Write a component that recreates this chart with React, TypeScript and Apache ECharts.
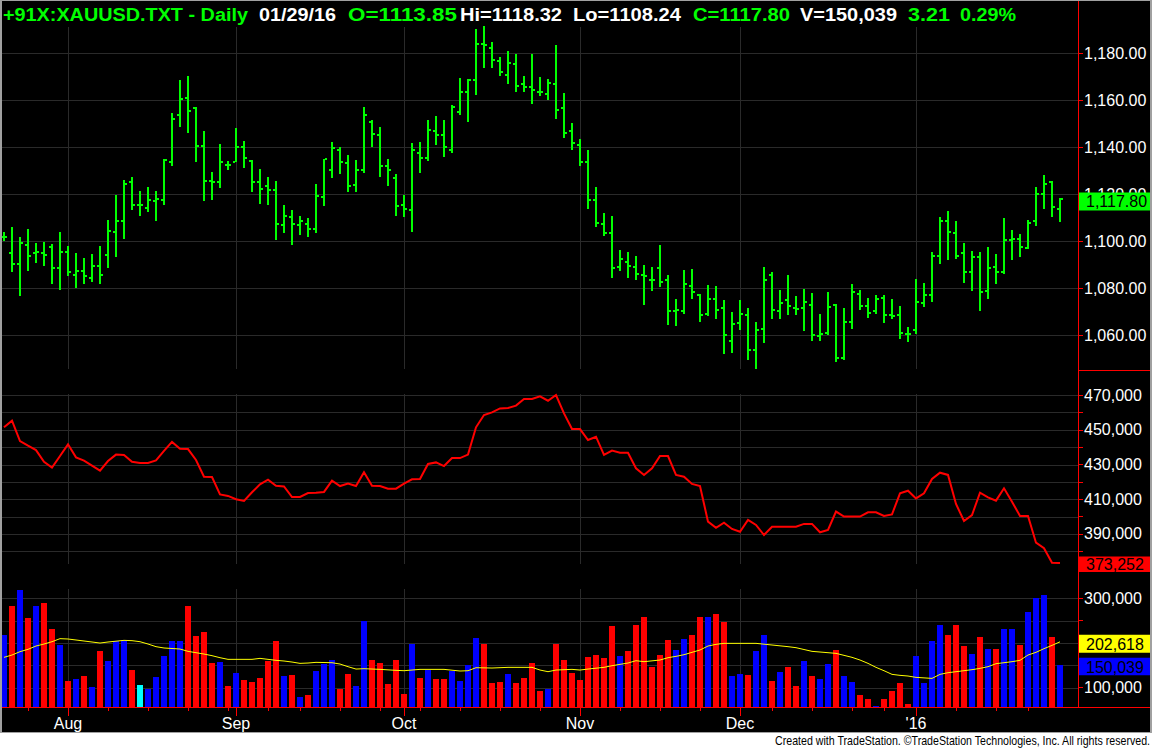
import React, { useEffect, useRef } from 'react';
import * as echarts from 'echarts';

// ---------- data ----------
const opens = [1101.8,1094.8,1090.5,1098.6,1094.8,1094.8,1097.7,1088.4,1095.2,1085.8,
1087.5,1084.5,1089.6,1094.3,1104.1,1108.4,1125.4,1115.2,1114.3,1117.3,
1117.7,1133.5,1153.5,1161.1,1156.5,1140.7,1125.8,1125.4,1132.6,1133.9,
1139.9,1134.3,1125.0,1123.3,1121.6,1106.7,1110.5,1107.1,1107.5,1105.0,
1119.0,1130.1,1138.6,1133.1,1124.1,1130.1,1150.9,1145.0,1131.8,1127.1,
1115.2,1113.1,1137.7,1135.2,1146.7,1145.4,1138.6,1154.8,1163.3,1168.4,
1184.1,1182.4,1176.5,1170.9,1175.2,1167.1,1165.8,1163.7,1162.8,1166.7,
1156.5,1147.1,1141.1,1133.5,1117.7,1107.5,1103.7,1089.2,1091.3,1089.2,
1085.8,1083.7,1088.8,1083.3,1070.4,1070.1,1081.1,1077.3,1069.2,1075.2,
1071.4,1057.5,1065.0,1068.4,1053.9,1062.8,1085.8,1070.1,1074.8,1071.4,
1071.4,1073.0,1059.6,1061.1,1073.0,1050.5,1065.8,1077.7,1072.6,1070.1,
1076.0,1068.4,1068.4,1060.7,1062.4,1073.5,1077.3,1093.9,1108.8,1103.7,
1094.8,1086.7,1093.1,1079.0,1089.2,1087.1,1100.6,1101.1,1097.3,1108.5,
1119.9,1125.4,1113.85];

const highs = [1104.0,1106.0,1101.7,1105.1,1099.3,1099.7,1098.9,1103.8,1098.0,1095.0,
1092.9,1094.6,1098.0,1109.1,1119.7,1126.1,1127.4,1121.3,1123.1,1121.4,
1134.9,1154.5,1168.7,1170.4,1157.0,1147.0,1129.5,1141.4,1134.3,1148.2,
1142.7,1134.6,1130.8,1127.4,1125.7,1115.5,1113.3,1110.8,1109.9,1124.4,
1135.0,1142.3,1140.1,1136.7,1134.6,1157.0,1151.6,1148.5,1134.9,1128.7,
1119.7,1141.7,1142.1,1151.6,1153.2,1151.5,1157.9,1169.4,1168.9,1190.2,
1191.6,1184.7,1178.3,1180.9,1179.7,1170.2,1179.6,1169.8,1168.9,1183.4,
1163.1,1150.2,1143.4,1138.9,1123.0,1111.9,1110.6,1096.3,1095.5,1093.6,
1089.8,1088.9,1098.3,1085.5,1075.3,1087.8,1088.1,1077.6,1081.3,1080.9,
1074.9,1069.8,1074.9,1071.5,1065.5,1088.9,1086.8,1079.2,1085.5,1076.6,
1079.6,1077.9,1068.9,1078.3,1073.2,1071.5,1081.7,1079.2,1075.7,1077.0,
1077.0,1075.3,1072.3,1063.4,1083.8,1082.1,1095.3,1110.2,1112.8,1108.5,
1099.2,1095.9,1095.3,1097.4,1094.5,1109.8,1104.7,1103.0,1108.9,1123.0,
1128.1,1125.5,1118.32];

const lows = [1099.9,1086.7,1076.5,1087.5,1090.9,1089.6,1081.6,1079.4,1085.0,1080.3,
1082.0,1082.8,1082.0,1088.8,1093.1,1101.1,1113.1,1110.9,1112.6,1108.8,
1115.6,1131.8,1148.4,1146.2,1133.9,1116.9,1117.7,1122.8,1130.5,1133.5,
1131.3,1121.1,1116.0,1115.2,1100.7,1103.3,1098.2,1102.8,1102.0,1103.3,
1114.8,1126.7,1128.8,1121.1,1121.1,1129.2,1140.3,1127.5,1123.7,1110.9,
1110.5,1104.1,1129.2,1134.3,1141.1,1136.0,1137.7,1153.9,1150.9,1162.4,
1173.9,1173.5,1170.1,1166.7,1163.3,1163.7,1158.2,1161.6,1159.9,1151.8,
1144.1,1138.6,1132.2,1113.9,1106.0,1102.4,1084.5,1087.5,1084.5,1083.3,
1073.0,1079.0,1080.7,1064.5,1064.1,1069.2,1075.2,1065.8,1068.1,1067.1,
1051.8,1052.3,1062.4,1049.6,1045.8,1056.9,1067.1,1066.7,1068.4,1068.4,
1061.6,1057.7,1057.7,1059.9,1048.8,1049.6,1062.8,1070.9,1067.5,1069.2,
1065.4,1066.7,1058.2,1057.3,1060.7,1071.8,1074.3,1090.5,1092.2,1092.6,
1082.4,1079.0,1070.5,1075.2,1081.6,1086.2,1091.8,1093.1,1096.5,1106.4,
1113.9,1110.5,1108.24];

const closes = [1102.0,1090.5,1099.4,1093.9,1095.2,1094.3,1088.8,1095.6,1086.7,1087.5,
1085.0,1089.6,1085.8,1104.5,1108.8,1124.5,1115.2,1115.2,1117.7,1118.0,
1134.5,1152.2,1160.7,1155.2,1140.7,1125.6,1125.2,1133.9,1132.6,1139.9,
1135.2,1125.0,1122.4,1121.6,1107.5,1110.9,1107.5,1108.8,1105.4,1119.4,
1134.8,1139.6,1133.5,1123.7,1130.1,1153.9,1145.8,1132.2,1130.5,1114.8,
1113.5,1139.0,1135.6,1147.5,1145.4,1139.9,1156.9,1163.7,1168.8,1184.1,
1183.3,1177.3,1172.2,1176.0,1166.2,1165.8,1164.5,1163.3,1167.2,1156.0,
1146.2,1142.0,1133.5,1117.7,1107.9,1103.7,1088.8,1092.6,1089.6,1086.2,
1085.4,1083.7,1082.8,1070.1,1070.6,1082.0,1078.2,1068.8,1075.2,1070.9,
1060.0,1064.7,1069.2,1053.5,1062.1,1083.3,1070.9,1073.5,1072.6,1071.3,
1074.3,1060.0,1060.7,1071.8,1050.1,1065.8,1078.2,1072.6,1069.6,1075.6,
1068.8,1068.3,1061.1,1060.6,1074.3,1077.3,1093.5,1108.8,1104.1,1093.9,
1086.7,1093.1,1078.2,1088.8,1087.1,1100.6,1100.9,1097.7,1107.7,1119.9,
1124.5,1114.6,1117.80];

const openInterest = [451400,455200,443500,440800,438300,431600,428200,434900,441600,434100,
432200,429300,426500,432000,435700,435500,431600,430900,430900,432400,
437800,443000,439100,438900,432600,423000,422800,412800,411900,410000,
409000,414000,418600,421300,417800,417400,411300,411300,413600,413800,
414200,420700,417600,419000,417600,425500,417800,417600,416100,416100,
419000,421500,421700,430300,431200,429100,433700,433700,435700,451400,
458500,460000,462300,462500,463900,467700,467700,469200,466700,470000,
459400,450400,450400,444100,446000,435500,438000,436800,436800,427800,
424000,427800,434900,434900,424000,423000,418800,417600,397100,393600,
396500,392900,391300,398100,395200,389400,394200,394200,394200,394200,
395800,395800,391000,392300,402900,400000,400000,400000,402500,402500,
400400,401300,413400,414900,410500,413400,421700,425300,424000,407300,
397500,400900,413800,411100,409200,416300,408600,400400,400400,385000,
381800,373500,373252];

const volumes = [217900,283500,318600,256700,283500,290300,231300,195500,114900,119400,
126100,100700,182100,159700,204400,206700,140300,105900,97700,123800,
170900,204400,204400,283500,216400,224600,155200,157400,103700,132800,
117100,112600,121600,159700,204400,126100,128300,79100,83500,137300,
152900,161900,97000,130600,103700,249200,161900,155200,108200,161900,
85800,197700,121600,139500,119400,119400,137300,114900,150000,211200,
197700,110400,112600,130600,110400,121600,155200,92500,97000,197700,
161900,132800,117100,168600,173100,166400,238000,170900,182100,240300,
258200,146200,173100,206700,184300,208900,217900,258200,258200,264900,
247000,126100,130600,128300,182100,217900,114900,135000,146200,103700,
159700,126100,119400,152900,184300,126100,112600,83500,74600,58900,
74600,92500,110400,63400,170900,110400,204400,240300,217900,240300,
193200,175300,213400,186500,186500,231300,231300,195500,269400,300700,
307400,213400,150039];

// volume moving average, read at [bar index, value]
const volumeAvg = [[0,167900],[1,173100],[2,180600],[3,185800],[4,193200],[5,197700],[6,202900],[7,209700],[8,208900],[9,206700],
[11,202200],[12,199900],[13,202200],[15,205900],[16,205200],[17,202900],[18,197700],[19,191800],[20,188800],[22,186500],
[23,181300],[24,178300],[25,175300],[26,171600],[27,167100],[28,163400],[31,163400],[32,165600],[33,163400],[34,161200],
[35,159700],[36,157400],[37,154400],[38,155200],[39,156700],[41,155900],[42,152900],[43,147000],[44,141700],[45,142500],
[47,141000],[49,138800],[50,138000],[52,141000],[55,141000],[57,137300],[58,138000],[59,144700],[61,144000],[63,145500],
[66,145500],[67,139500],[68,135800],[69,139500],[71,141000],[72,139500],[73,141700],[75,145500],[76,149200],[78,155200],
[79,160400],[80,158200],[82,161900],[83,167100],[84,170100],[85,173800],[86,179100],[87,184300],[88,193200],[89,197000],
[90,199200],[94,199200],[96,195500],[98,191800],[99,189500],[101,181300],[103,178300],[104,176800],[106,167900],[107,161900],
[108,154400],[109,145500],[110,138000],[111,129800],[112,127600],[113,126100],[114,123100],[116,120800],[117,129800],[118,133500],
[119,135800],[121,140300],[122,143200],[123,147000],[124,153700],[125,155900],[126,158200],[127,161200],[128,173100],[129,179100],
[130,187300],[131,194700],[132,202618]];

const priceTicks = [1060, 1080, 1100, 1120, 1140, 1160, 1180];
const oiTicks = [380000, 390000, 400000, 410000, 420000, 430000, 440000, 450000, 460000, 470000];
const oiLabels = [390000, 410000, 430000, 450000, 470000];
const volTicks = [100000, 150000, 200000, 250000, 300000];
const volLabels = [100000, 200000, 300000];
const monthIdx = [8, 29, 50, 72, 92, 114];
const monthNames = ['Aug', 'Sep', 'Oct', 'Nov', 'Dec', "'16"];
const weekIdx = [3, 13, 18, 23, 28, 33, 37, 42, 47, 52, 57, 62, 67, 77, 82, 87, 96, 101, 106, 110, 119, 124, 128];

const headerParts = [
  { text: '+91X:XAUUSD.TXT - Daily', color: '#00ff00' },
  { text: '01/29/16', color: '#ffffff' },
  { text: 'O=1113.85', color: '#00ff00' },
  { text: 'Hi=1118.32', color: '#ffffff' },
  { text: 'Lo=1108.24', color: '#ffffff' },
  { text: 'C=1117.80', color: '#00ff00' },
  { text: 'V=150,039', color: '#ffffff' },
  { text: '3.21', color: '#00ff00' },
  { text: '0.29%', color: '#00ff00' },
];
const footerText = 'Created with TradeStation. \u00a9TradeStation Technologies, Inc. All rights reserved.';

// ---------- styling / layout ----------
const FONT = '"Liberation Sans", Arial, sans-serif';
const GRIDC = '#2a2a2a';
const RED = '#ff0000';
const GREEN = '#00ff00';
const headerBoxes = [[3, 245], [259, 77], [348, 109], [460, 102], [573, 108], [693, 97], [800, 97], [908, 42], [960, 56]];

const volColors = closes.map((c, i) =>
  i === 0 || c > closes[i - 1] ? '#0000ff' : c < closes[i - 1] ? '#ff0000' : '#00ffff');

function measure(text: string, font: string): number {
  const ctx = document.createElement('canvas').getContext('2d');
  if (!ctx) return text.length * 9;
  ctx.font = font;
  return ctx.measureText(text).width;
}

const fmtNum = (v: number, d: number) =>
  v.toLocaleString('en-US', { minimumFractionDigits: d, maximumFractionDigits: d });

export default function App() {
  const ref = useRef<HTMLDivElement>(null);

  useEffect(() => {
    if (!ref.current) return;
    const chart = echarts.init(ref.current, null, { renderer: 'svg' });
    const xMin = -0.5, xMax = 134.25;
    const priceMin = 1045.2, priceMax = 1192.0;
    const oiMin = 370430, oiMax = 483240;
    const volMin = 56800, volMax = 363300;

    const gridLines = (ax: number, hVals: number[], yFloor: number, topPad: number, botPad: number) => [
      {
        type: 'custom', xAxisIndex: ax, yAxisIndex: ax, silent: true, z: 1,
        data: hVals.map((v) => [0, v]),
        renderItem: (params: any, api: any) => {
          const cs = params.coordSys;
          const y = Math.round(api.coord([0, api.value(1)])[1]) + 0.5;
          return { type: 'line', shape: { x1: cs.x + 2, y1: y, x2: cs.x + cs.width, y2: y }, style: { stroke: GRIDC, lineWidth: 1 } };
        },
      },
      {
        type: 'custom', xAxisIndex: ax, yAxisIndex: ax, silent: true, z: 1,
        data: monthIdx.map((i) => [i, yFloor]),
        renderItem: (params: any, api: any) => {
          const cs = params.coordSys;
          const x = Math.round(api.coord([api.value(0), api.value(1)])[0]) + 0.5;
          return { type: 'line', shape: { x1: x, y1: cs.y + topPad, x2: x, y2: cs.y + cs.height - botPad }, style: { stroke: GRIDC, lineWidth: 1 } };
        },
      },
    ];

    const yAx = (gridIndex: number, min: number, max: number, ticks: number[], labels: number[], fmt: (v: number) => string) => ({
      type: 'value', gridIndex, position: 'right', min, max,
      axisLine: { show: false, onZero: false },
      axisTick: { show: true, inside: false, length: 5, customValues: ticks, lineStyle: { color: RED, width: 1 } },
      axisLabel: { show: true, customValues: labels, formatter: fmt, color: '#ffffff', fontSize: 16, fontFamily: FONT, margin: 6 },
      splitLine: { show: false },
      minorTick: { show: false },
    });

    const hiddenX = (gridIndex: number) => ({
      type: 'value', gridIndex, min: xMin, max: xMax, show: false,
      axisLine: { show: false, onZero: false }, axisTick: { show: false }, axisLabel: { show: false }, splitLine: { show: false },
    });

    // one custom item that draws a whole polyline through the axis scales
    const polySeries = (name: string, ax: number, pts: number[][], color: string, width: number) => ({
      type: 'custom', name, xAxisIndex: ax, yAxisIndex: ax, z: 4,
      data: [pts[0]],
      renderItem: (params: any, api: any) => ({
        type: 'polyline',
        shape: { points: pts.map((p) => api.coord(p)) },
        style: { stroke: color, lineWidth: width, fill: 'none' },
      }),
    });

    const option: any = {
      animation: false,
      backgroundColor: 'transparent',
      grid: [
        { left: 0, top: 25, width: 1078, height: 345, outerBoundsMode: 'none' },
        { left: 0, top: 372, width: 1078, height: 196, outerBoundsMode: 'none' },
        { left: 0, top: 570, width: 1078, height: 137, outerBoundsMode: 'none' },
      ],
      xAxis: [
        hiddenX(0),
        hiddenX(1),
        {
          type: 'value', gridIndex: 2, min: xMin, max: xMax, position: 'bottom',
          axisLine: { show: false, onZero: false },
          axisTick: { show: true, length: 4, customValues: weekIdx, lineStyle: { color: RED, width: 1 } },
          axisLabel: { show: false }, splitLine: { show: false },
        },
        {
          type: 'value', gridIndex: 2, min: xMin, max: xMax, position: 'bottom',
          axisLine: { show: false, onZero: false },
          axisTick: { show: true, length: 9, customValues: monthIdx, lineStyle: { color: RED, width: 1 } },
          axisLabel: {
            show: true, customValues: monthIdx,
            formatter: (v: number) => monthNames[monthIdx.indexOf(Math.round(v))] || '',
            color: '#ffffff', fontSize: 16, fontFamily: FONT, margin: 8,
          },
          splitLine: { show: false },
        },
      ],
      yAxis: [
        yAx(0, priceMin, priceMax, priceTicks, priceTicks, (v) => fmtNum(v, 2)),
        yAx(1, oiMin, oiMax, oiTicks, oiLabels, (v) => fmtNum(v, 0)),
        yAx(2, volMin, volMax, volTicks, volLabels, (v) => fmtNum(v, 0)),
      ],
      series: [
        ...gridLines(0, priceTicks, priceMin, 2, 1),
        ...gridLines(1, oiTicks, oiMin, 22, 4),
        ...gridLines(2, volTicks, volMin, 19, 0),
        {
          type: 'custom', name: 'XAUUSD', xAxisIndex: 0, yAxisIndex: 0, z: 3,
          data: opens.map((o, i) => [i, o, highs[i], lows[i], closes[i]]),
          encode: { x: 0, y: [1, 2, 3, 4] },
          renderItem: (params: any, api: any) => {
            const i = api.value(0);
            const o = api.coord([i, api.value(1)]);
            const h = api.coord([i, api.value(2)]);
            const l = api.coord([i, api.value(3)]);
            const c = api.coord([i, api.value(4)]);
            const x = Math.round(h[0]);
            const hy = Math.round(h[1]);
            const ly = Math.round(l[1]);
            const st = { fill: GREEN };
            return {
              type: 'group',
              children: [
                { type: 'rect', shape: { x: x - 1, y: hy, width: 2, height: Math.max(2, ly - hy) }, style: st },
                { type: 'rect', shape: { x: x - 3, y: Math.round(o[1]) - 1, width: 2, height: 2 }, style: st },
                { type: 'rect', shape: { x: x + 1, y: Math.round(c[1]) - 1, width: 2, height: 2 }, style: st },
              ],
            };
          },
        },
        polySeries('Open interest', 1, openInterest.map((v, i) => [i, v]), RED, 2),
        {
          type: 'custom', name: 'Volume', xAxisIndex: 2, yAxisIndex: 2, z: 3,
          data: volumes.map((v, i) => [i, v]),
          renderItem: (params: any, api: any) => {
            const i = api.value(0);
            const top = api.coord([i, api.value(1)]);
            const cs = params.coordSys;
            const bottom = cs.y + cs.height;
            const x = Math.round(top[0]);
            const ty = Math.round(top[1]);
            return { type: 'rect', shape: { x: x - 3, y: ty, width: 6, height: Math.max(1, bottom - ty) }, style: { fill: volColors[i] } };
          },
        },
        polySeries('Volume average', 2, volumeAvg, '#ffff00', 1),
      ],
    };

    chart.setOption(option);

    const last = closes.length - 1;
    const pY = chart.convertToPixel({ yAxisIndex: 0 }, closes[last]) as number;
    const oY = chart.convertToPixel({ yAxisIndex: 1 }, openInterest[last]) as number;
    const aY = chart.convertToPixel({ yAxisIndex: 2 }, volumeAvg[volumeAvg.length - 1][1]) as number;
    const vY = chart.convertToPixel({ yAxisIndex: 2 }, volumes[last]) as number;

    const headerFont = `bold 18px ${FONT}`;
    const footFont = `12px ${FONT}`;
    const elements: any[] = [];
    // frame
    elements.push({ type: 'rect', shape: { x: 0, y: 0, width: 2, height: 733 }, style: { fill: '#a0a0a0' }, z: 50 });
    elements.push({ type: 'rect', shape: { x: 0, y: 0, width: 1152, height: 1 }, style: { fill: '#a0a0a0' }, z: 50 });
    elements.push({ type: 'rect', shape: { x: 1150, y: 0, width: 2, height: 733 }, style: { fill: '#a0a0a0' }, z: 50 });
    elements.push({ type: 'rect', shape: { x: 0, y: 732, width: 1152, height: 1 }, style: { fill: '#a0a0a0' }, z: 50 });
    // red axis lines / separators
    elements.push({ type: 'rect', shape: { x: 1078, y: 0, width: 1, height: 708 }, style: { fill: RED }, z: 20 });
    elements.push({ type: 'rect', shape: { x: 2, y: 707, width: 1148, height: 1 }, style: { fill: RED }, z: 20 });
    elements.push({ type: 'rect', shape: { x: 1078, y: 370, width: 72, height: 1 }, style: { fill: RED }, z: 20 });
    elements.push({ type: 'rect', shape: { x: 1078, y: 569, width: 72, height: 1 }, style: { fill: RED }, z: 20 });
    // last-value boxes
    const box = (cy: number, top: number, h: number, fill: string, text: string) => {
      elements.push({ type: 'rect', shape: { x: 1079, y: cy - top, width: 71, height: h }, style: { fill }, z: 30 });
      elements.push({
        type: 'text', x: 1086, y: cy - top + h / 2 + 0.5, z: 31,
        style: { text, fill: '#000000', font: `16px ${FONT}`, align: 'left', verticalAlign: 'middle', textAlign: 'left', textVerticalAlign: 'middle' },
      });
    };
    box(pY, 7, 18, GREEN, fmtNum(closes[last], 2));
    box(oY, 6.5, 15.5, RED, fmtNum(openInterest[last], 0));
    box(aY, 7, 18, '#ffff00', fmtNum(volumeAvg[volumeAvg.length - 1][1], 0));
    box(vY, 7.5, 17.5, '#0000ff', fmtNum(volumes[last], 0));
    // header
    headerParts.forEach((p, k) => {
      const [left, w] = headerBoxes[k];
      const s = w / measure(p.text, headerFont);
      elements.push({
        type: 'text', x: left, y: 15, scaleX: s, z: 40,
        style: { text: p.text, fill: p.color, font: headerFont, align: 'left', verticalAlign: 'middle', textAlign: 'left', textVerticalAlign: 'middle' },
      });
    });
    // footer
    const fs = 376 / measure(footerText, footFont);
    elements.push({
      type: 'text', x: 1150, y: 741, scaleX: fs, z: 40,
      style: { text: footerText, fill: '#000000', font: footFont, align: 'right', verticalAlign: 'middle', textAlign: 'right', textVerticalAlign: 'middle' },
    });

    chart.setOption({ graphic: { elements } });

    return () => chart.dispose();
  }, []);

  return (
    <div
      style={{
        position: 'absolute', left: 0, top: 0, width: 1152, height: 748,
        background: 'linear-gradient(to bottom, #000000 0px, #000000 733px, #ffffff 733px, #ffffff 748px)',
      }}
    >
      <div ref={ref} style={{ width: 1152, height: 748 }} />
    </div>
  );
}
